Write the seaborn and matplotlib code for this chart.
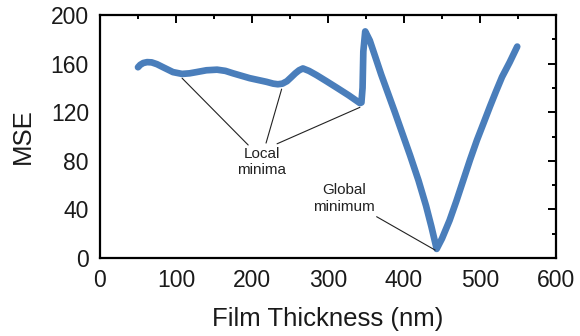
import numpy as np
import pandas as pd
import matplotlib
matplotlib.use("Agg")
import matplotlib.pyplot as plt
from matplotlib.ticker import MultipleLocator
import seaborn as sns

# Mean squared error of the optical model versus assumed film thickness
thickness_nm = [50, 53, 57, 62, 68, 75, 83, 96, 108, 118, 127, 140, 154, 165,
                175, 186, 197, 208, 219, 228, 234, 240, 246, 252, 257, 262,
                267, 275, 285, 298, 312, 327, 342, 344, 345.5, 346.5, 349,
                355, 362, 370, 379, 388, 397, 408, 419, 429, 436, 443,
                450, 460, 469, 478, 487, 496, 505, 513, 521, 529, 539, 549]
mse = [157, 159, 160.5, 161.2, 161, 159.5, 157, 153, 151.5, 152, 153, 154.5,
       155, 154, 152, 150, 148, 146.5, 145, 143.5, 143, 143.5, 145.5, 149,
       152, 154.5, 156, 154, 150.5, 145.5, 140, 134, 127.5, 128, 140, 170,
       186.5, 179, 166, 151, 135.5, 120, 104, 84.5, 64, 43, 26, 7.5,
       16, 31, 47, 64, 81, 97, 111.5, 124.5, 137, 149, 161, 174]

# Annotated points: (x, y) on the curve
local_minima_x = [108, 239, 342]
local_minima_y = [148, 139, 124]
global_min_x = 441
global_min_y = 6.5

df = pd.DataFrame({"Film Thickness (nm)": thickness_nm, "MSE": mse})

sns.set_style("white")
plt.rcParams["font.family"] = ["Liberation Sans", "DejaVu Sans"]

fig = plt.figure(figsize=(5.8, 3.36), dpi=100)
ax = fig.add_axes([0.1724, 0.2321, 0.9586 - 0.1724, 0.9554 - 0.2321])

sns.lineplot(data=df, x="Film Thickness (nm)", y="MSE", ax=ax, sort=False,
             estimator=None, color="#4a7ebb", linewidth=4.8,
             solid_capstyle="round", solid_joinstyle="round")

ax.set_xlim(0, 600)
ax.set_ylim(0, 200)
ax.xaxis.set_major_locator(MultipleLocator(100))
ax.xaxis.set_minor_locator(MultipleLocator(50))
ax.yaxis.set_major_locator(MultipleLocator(40))
ax.yaxis.set_minor_locator(MultipleLocator(20))

for s in ax.spines.values():
    s.set_visible(True)
    s.set_linewidth(1.6)
    s.set_color("black")

ax.tick_params(which="both", direction="in", top=True, right=True,
               width=1.4, color="black", labelsize=16.5, labelcolor="#1a1a1a")
ax.tick_params(which="major", length=5.5, pad=8)
ax.tick_params(which="minor", length=3)
ax.tick_params(axis="x", which="major", pad=8)

ax.set_xlabel("Film Thickness (nm)", fontsize=18.5, labelpad=11,
              color="#1a1a1a")
ax.set_ylabel("MSE", fontsize=18.5, labelpad=11, color="#1a1a1a")

# Annotation leader lines
local_text_x, local_text_y = 213, 79
starts = [(195, 93), (218.5, 94.6), (233, 94)]
for (sx, sy), ex, ey in zip(starts, local_minima_x, local_minima_y):
    ax.plot([sx, ex], [sy, ey], color="#222222", linewidth=0.8)
ax.text(local_text_x, local_text_y, "Local\nminima", ha="center",
        va="center", fontsize=11, color="#222222", linespacing=1.25)

ax.plot([364, global_min_x], [34, global_min_y], color="#222222",
        linewidth=0.8)
ax.text(321, 49, "Global\nminimum", ha="center", va="center", fontsize=11,
        color="#222222", linespacing=1.25)

fig.savefig("out.png", dpi=100)
